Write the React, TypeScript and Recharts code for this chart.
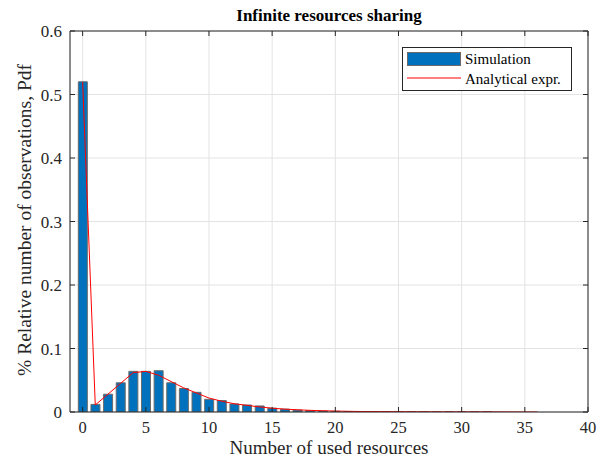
import React from 'react';
import { ComposedChart, Bar, Line, XAxis, YAxis, CartesianGrid, ReferenceLine } from 'recharts';

const resources = Array.from({ length: 41 }, (_, i) => i);
const simulation = [0.52, 0.012, 0.028, 0.046, 0.064, 0.064, 0.065, 0.046, 0.037, 0.031, 0.02, 0.018, 0.0126, 0.011, 0.0095, 0.006, 0.0045, 0.003, 0.0022, 0.0016, 0.0011, 0.0008, 0.0006, 0.0005, 0.0004, 0.0003, 0.0002, 0.0002, 0.0001, 0.0001, 0.0001, 0.0001, 0.0001, 0, 0, 0, 0, 0, 0, 0, 0];
const analytical: (number | null)[] = [0.52, 0.011, 0.028, 0.045, 0.062, 0.064, 0.058, 0.048, 0.038, 0.03, 0.022, 0.017, 0.013, 0.0105, 0.008, 0.006, 0.0045, 0.0035, 0.0026, 0.002, 0.0015, 0.0011, 0.0008, 0.0006, 0.0005, 0.0004, 0.0003, 0.0002, 0.00015, 0.0001, 0.0001, 0.0001, 0.0001, 0.0001, 0, 0, 0, null, null, null, null];
const xTicks = [0, 5, 10, 15, 20, 25, 30, 35, 40];
const yTicks = [0, 0.1, 0.2, 0.3, 0.4, 0.5, 0.6];
const title = 'Infinite resources sharing';
const xLabel = 'Number of used resources';
const yLabel = '% Relative number of observations, Pdf';
const legendNames = ['Simulation', 'Analytical expr.'];

const data = resources.map((r, i) => ({ r, sim: simulation[i], ana: analytical[i] }));

const W = 607, H = 463;
const LEFT = 70, RIGHT = 588, TOP = 31, BOTTOM = 412;
const FONT = '"Liberation Serif", "Times New Roman", serif';
const AX = '#262626';

const XTick = (props: any) => {
  const { x, y, payload } = props;
  return (
    <g>
      <line x1={x} y1={y} x2={x} y2={y - 5} stroke={AX} strokeWidth={1} />
      <line x1={x} y1={TOP} x2={x} y2={TOP + 5} stroke={AX} strokeWidth={1} />
      <text x={x} y={y + 21} textAnchor="middle" fontFamily={FONT} fontSize={16.5} fill={AX}>{payload.value}</text>
    </g>
  );
};

const YTick = (props: any) => {
  const { x, y, payload } = props;
  return (
    <g>
      <line x1={x} y1={y} x2={x + 5} y2={y} stroke={AX} strokeWidth={1} />
      <line x1={RIGHT} y1={y} x2={RIGHT - 5} y2={y} stroke={AX} strokeWidth={1} />
      <text x={x - 8} y={y + 6} textAnchor="end" fontFamily={FONT} fontSize={17} fill={AX}>{payload.value}</text>
    </g>
  );
};

export default function App() {
  return (
    <div style={{ position: 'fixed', left: 0, top: 0, width: W, height: H, background: '#fff' }}>
      <ComposedChart width={W} height={H} data={data} margin={{ top: TOP, right: W - RIGHT, bottom: 0, left: 0 }}>
        <CartesianGrid stroke="#e3e3e3" strokeWidth={1} />
        <XAxis dataKey="r" type="number" domain={[-1, 40]} ticks={xTicks} allowDataOverflow height={H - BOTTOM} tickSize={0} tickMargin={0} tickLine={false} stroke={AX} tick={<XTick />} interval={0} />
        <YAxis type="number" domain={[0, 0.6]} ticks={yTicks} allowDataOverflow width={LEFT} tickSize={0} tickMargin={0} tickLine={false} stroke={AX} tick={<YTick />} interval={0} />
        <ReferenceLine y={0.6} stroke={AX} />
        <ReferenceLine x={40} stroke={AX} />
        <Bar dataKey="sim" fill="#0072BD" stroke="#6a6a6a" strokeWidth={1} barSize={9} isAnimationActive={false} />
        <Line dataKey="ana" stroke="#ff0000" strokeWidth={1} dot={false} type="linear" connectNulls={false} isAnimationActive={false} />
      </ComposedChart>
      <svg width={W} height={H} style={{ position: 'absolute', left: 0, top: 0, pointerEvents: 'none' }}>
        <text x={(LEFT + RIGHT) / 2} y={21} textAnchor="middle" fontFamily={FONT} fontWeight="bold" fontSize={17} fill="#000">{title}</text>
        <text x={(LEFT + RIGHT) / 2} y={454} textAnchor="middle" fontFamily={FONT} fontSize={19} fill={AX}>{xLabel}</text>
        <text x={0} y={0} transform={`translate(31, ${(63 + 377) / 2}) rotate(-90)`} textAnchor="middle" fontFamily={FONT} fontSize={19.5} fill={AX}>{yLabel}</text>
        <rect x={402.5} y={47.5} width={169} height={43} fill="#fff" stroke={AX} strokeWidth={1} />
        <rect x={407.5} y={52.5} width={53} height={13} fill="#0072BD" stroke="#6a6a6a" strokeWidth={1} />
        <line x1={407} y1={78} x2={461} y2={78} stroke="#ff0000" strokeWidth={1} />
        <text x={465} y={64} fontFamily={FONT} fontSize={15} fill="#000">{legendNames[0]}</text>
        <text x={465} y={83.5} fontFamily={FONT} fontSize={15} fill="#000">{legendNames[1]}</text>
      </svg>
    </div>
  );
}
